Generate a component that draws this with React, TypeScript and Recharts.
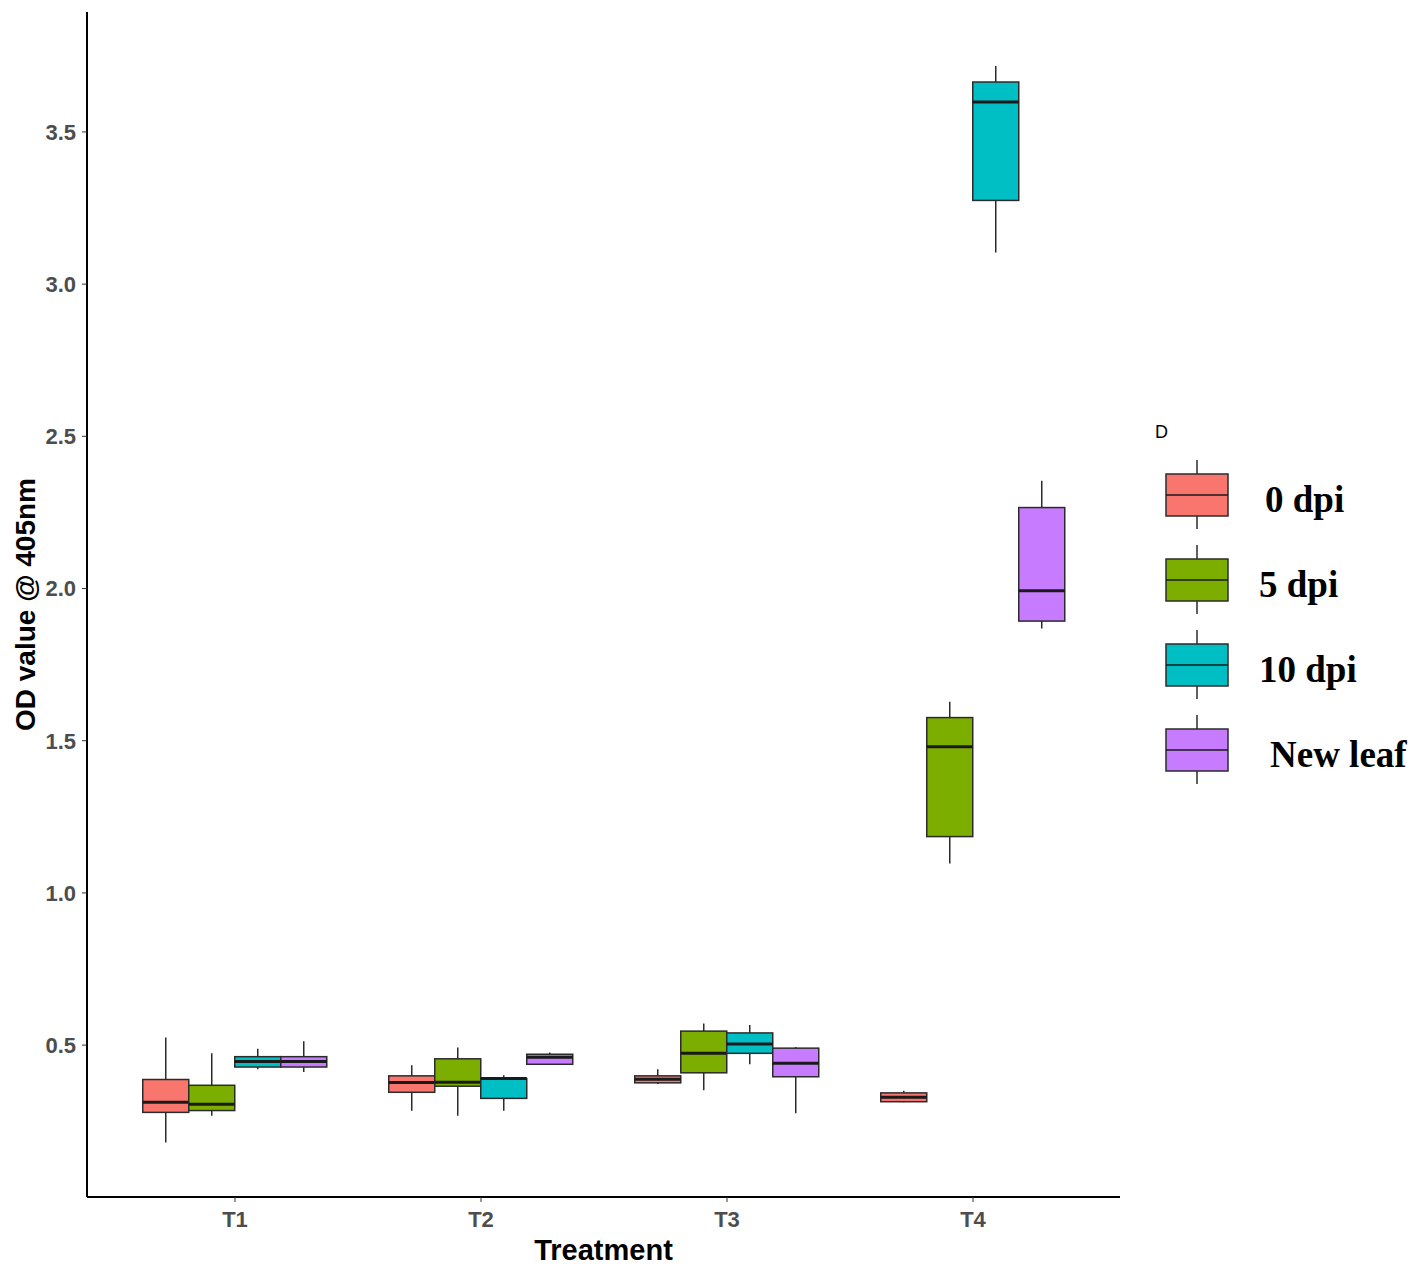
import { ComposedChart, Bar, XAxis, YAxis } from 'recharts';

const treatments = ['T1', 'T2', 'T3', 'T4'];
const groups = ['0 dpi', '5 dpi', '10 dpi', 'New leaf'];
const colors = ['#F8766D', '#7CAE00', '#00BFC4', '#C77CFF'];
const yTicks = [0.5, 1.0, 1.5, 2.0, 2.5, 3.0, 3.5];

// rows: T1..T4, columns: 0 dpi, 5 dpi, 10 dpi, New leaf
const lower = [
  [0.18, 0.268, 0.421, 0.412],
  [0.284, 0.268, 0.284, 0.437],
  [0.372, 0.352, 0.437, 0.276],
  [0.312, 1.097, 3.104, 1.869],
];
const q1 = [
  [0.279, 0.285, 0.428, 0.428],
  [0.345, 0.365, 0.325, 0.437],
  [0.376, 0.409, 0.473, 0.396],
  [0.314, 1.185, 3.275, 1.893],
];
const median = [
  [0.312, 0.306, 0.446, 0.446],
  [0.377, 0.378, 0.39, 0.46],
  [0.388, 0.473, 0.504, 0.44],
  [0.329, 1.48, 3.598, 1.993],
];
const q3 = [
  [0.387, 0.368, 0.462, 0.462],
  [0.399, 0.455, 0.39, 0.47],
  [0.399, 0.546, 0.54, 0.49],
  [0.343, 1.576, 3.664, 2.266],
];
const upper = [
  [0.525, 0.473, 0.488, 0.513],
  [0.434, 0.492, 0.401, 0.476],
  [0.421, 0.571, 0.566, 0.494],
  [0.35, 1.628, 3.717, 2.354],
];

const data = treatments.map((t, i) => {
  const row: any = { treatment: t };
  groups.forEach((_, g) => {
    row[`box${g}`] = [q1[i][g], q3[i][g]];
  });
  row.stats = groups.map((_, g) => ({
    lo: lower[i][g],
    q1: q1[i][g],
    med: median[i][g],
    q3: q3[i][g],
    hi: upper[i][g],
  }));
  return row;
});

const INK = '#2b2b2b';
const SANS = "Arial, 'Liberation Sans', sans-serif";

function BoxShape(props: any) {
  const { x, y, width, height, payload, group } = props;
  const s = payload.stats[group];
  // pixels per unit, taken from the bar the library scaled for [q1, q3]
  const k = height / (s.q3 - s.q1);
  const toY = (v: number) => y + (s.q3 - v) * k;
  const cx = x + width / 2;
  return (
    <g>
      <line x1={cx} x2={cx} y1={toY(s.hi)} y2={y} stroke={INK} strokeWidth={1.5} />
      <line x1={cx} x2={cx} y1={y + height} y2={toY(s.lo)} stroke={INK} strokeWidth={1.5} />
      <rect x={x} y={y} width={width} height={height} fill={colors[group]} stroke={INK} strokeWidth={1.5} />
      <line x1={x} x2={x + width} y1={toY(s.med)} y2={toY(s.med)} stroke="#1a1a1a" strokeWidth={3} />
    </g>
  );
}

function YTitle(props: any) {
  const vb = props.viewBox;
  const cy = vb.y + vb.height / 2;
  return (
    <text
      x={25}
      y={cy}
      transform={`rotate(-90 25 ${cy})`}
      textAnchor="middle"
      dominantBaseline="central"
      fontFamily={SANS}
      fontWeight="bold"
      fontSize={28}
      fill="#000"
    >
      OD value @ 405nm
    </text>
  );
}

function LegendBox() {
  const top = 474;
  const step = 85;
  return (
    <svg width={270} height={400} style={{ position: 'absolute', left: 1148, top: 410 }}>
      <text x={7} y={28} fontFamily={SANS} fontSize={18} fill="#000">D</text>
      {groups.map((name, g) => {
        const by = top - 410 + g * step;
        return (
          <g key={name}>
            <line x1={49} x2={49} y1={by - 14} y2={by} stroke={INK} strokeWidth={1.5} />
            <line x1={49} x2={49} y1={by + 42} y2={by + 55} stroke={INK} strokeWidth={1.5} />
            <rect x={18} y={by} width={62} height={42} fill={colors[g]} stroke={INK} strokeWidth={1.5} />
            <line x1={18} x2={80} y1={by + 21} y2={by + 21} stroke="#1a1a1a" strokeWidth={1.5} />
            <text
              x={name === 'New leaf' ? 122 : name === '0 dpi' ? 117 : 111}
              y={by + 25}
              dominantBaseline="central"
              fontFamily="'Times New Roman', 'Liberation Serif', serif"
              fontWeight="bold"
              fontSize={37}
              fill="#000"
            >
              {name}
            </text>
          </g>
        );
      })}
    </svg>
  );
}

export default function App() {
  return (
    <div style={{ position: 'absolute', left: 0, top: 0, width: 1418, height: 1273, background: '#fff' }}>
      <ComposedChart
        width={1418}
        height={1273}
        data={data}
        margin={{ top: 12, right: 298, bottom: 0, left: 27 }}
        barCategoryGap="12.5%"
        barGap={0}
      >
        <XAxis
          dataKey="treatment"
          height={76}
          padding={{ left: 25, right: 24 }}
          axisLine={{ stroke: '#000', strokeWidth: 2 }}
          tickLine={{ stroke: '#333' }}
          tickSize={5}
          tick={{ fontSize: 22, fontWeight: 'bold', fill: '#4d4d4d', fontFamily: SANS }}
          tickMargin={9}
          label={{
            value: 'Treatment',
            position: 'insideBottom',
            offset: 13,
            fontSize: 29,
            fontWeight: 'bold',
            fill: '#000',
            fontFamily: SANS,
          }}
        />
        <YAxis
          type="number"
          width={60}
          domain={[0.001, 3.894]}
          ticks={yTicks}
          allowDataOverflow
          tickFormatter={(v: number) => v.toFixed(1)}
          axisLine={{ stroke: '#000', strokeWidth: 2 }}
          tickLine={{ stroke: '#333' }}
          tickSize={5}
          tickMargin={6}
          tick={{ fontSize: 22, fontWeight: 'bold', fill: '#4d4d4d', fontFamily: SANS }}
          label={{ content: (p: any) => <YTitle {...p} /> }}
        />
        {groups.map((name, g) => (
          <Bar
            key={name}
            dataKey={`box${g}`}
            name={name}
            fill={colors[g]}
            isAnimationActive={false}
            shape={(p: any) => <BoxShape {...p} group={g} />}
          />
        ))}
      </ComposedChart>
      <LegendBox />
    </div>
  );
}
